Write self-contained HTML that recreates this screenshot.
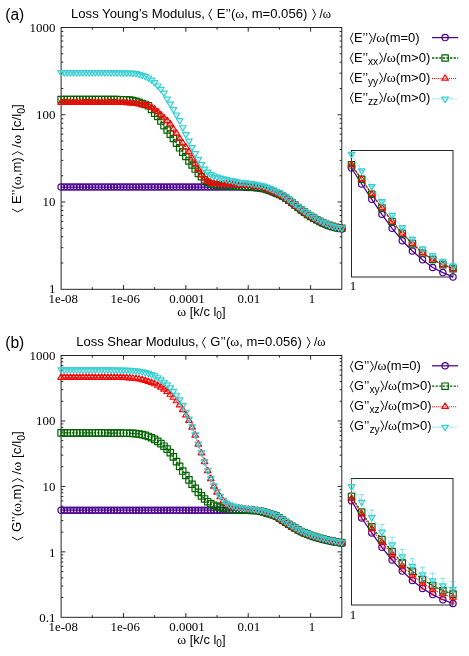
<!DOCTYPE html>
<html><head><meta charset="utf-8"><title>Loss moduli</title>
<style>html,body{margin:0;padding:0;background:#fff}body{width:469px;height:656px;overflow:hidden;font-family:"Liberation Sans",sans-serif}svg text{white-space:pre}</style>
</head><body>
<svg width="469" height="656" viewBox="0 0 469 656" style="display:block">
<rect width="469" height="656" fill="#fff"/>
<g stroke="#1c1c1c" stroke-width="0.95" fill="none" stroke-linecap="butt"><rect x="61.1" y="27.5" width="280.70" height="261.80"/><path d="M92.29 289.3v-2.2M92.29 27.5v2.2M123.48 289.3v-4.2M123.48 27.5v4.2M154.67 289.3v-2.2M154.67 27.5v2.2M185.86 289.3v-4.2M185.86 27.5v4.2M217.04 289.3v-2.2M217.04 27.5v2.2M248.23 289.3v-4.2M248.23 27.5v4.2M279.42 289.3v-2.2M279.42 27.5v2.2M310.61 289.3v-4.2M310.61 27.5v4.2M61.1 263.03h2.2M341.8 263.03h-2.2M61.1 247.66h2.2M341.8 247.66h-2.2M61.1 236.76h2.2M341.8 236.76h-2.2M61.1 228.30h2.2M341.8 228.30h-2.2M61.1 221.39h2.2M341.8 221.39h-2.2M61.1 215.55h2.2M341.8 215.55h-2.2M61.1 210.49h2.2M341.8 210.49h-2.2M61.1 206.03h2.2M341.8 206.03h-2.2M61.1 202.03h4.2M341.8 202.03h-4.2M61.1 175.76h2.2M341.8 175.76h-2.2M61.1 160.40h2.2M341.8 160.40h-2.2M61.1 149.49h2.2M341.8 149.49h-2.2M61.1 141.04h2.2M341.8 141.04h-2.2M61.1 134.13h2.2M341.8 134.13h-2.2M61.1 128.28h2.2M341.8 128.28h-2.2M61.1 123.22h2.2M341.8 123.22h-2.2M61.1 118.76h2.2M341.8 118.76h-2.2M61.1 114.77h4.2M341.8 114.77h-4.2M61.1 88.50h2.2M341.8 88.50h-2.2M61.1 73.13h2.2M341.8 73.13h-2.2M61.1 62.23h2.2M341.8 62.23h-2.2M61.1 53.77h2.2M341.8 53.77h-2.2M61.1 46.86h2.2M341.8 46.86h-2.2M61.1 41.02h2.2M341.8 41.02h-2.2M61.1 35.96h2.2M341.8 35.96h-2.2M61.1 31.49h2.2M341.8 31.49h-2.2"/></g>
<g fill="none" stroke="#4b0090" stroke-width="1.2" stroke-linejoin="round"><polyline points="61.10,187.00 64.22,187.00 67.34,187.00 70.46,187.00 73.58,187.00 76.69,187.00 79.81,187.00 82.93,187.00 86.05,187.00 89.17,187.00 92.29,187.00 95.41,187.00 98.53,187.00 101.65,187.00 104.76,187.00 107.88,187.00 111.00,187.00 114.12,187.00 117.24,187.00 120.36,187.00 123.48,187.00 126.60,187.00 129.72,187.00 132.83,187.00 135.95,187.00 139.07,187.00 142.19,187.00 145.31,187.00 148.43,187.00 151.55,187.00 154.67,187.00 157.79,187.00 160.90,187.00 164.02,187.00 167.14,187.00 170.26,187.00 173.38,187.00 176.50,187.00 179.62,187.00 182.74,187.00 185.86,187.00 188.97,187.00 192.09,187.00 195.21,187.00 198.33,187.00 201.45,187.00 204.57,187.00 207.69,187.00 210.81,187.00 213.93,187.00 217.04,187.00 220.16,187.00 223.28,187.00 226.40,187.00 229.52,187.00 232.64,187.00 235.76,187.00 238.88,187.03 242.00,187.10 245.11,187.23 248.23,187.40 251.35,187.58 254.47,187.80 257.59,188.07 260.71,188.42 263.83,188.97 266.95,189.92 270.07,191.02 273.18,192.22 276.30,193.52 279.42,194.74 282.54,196.38 285.66,198.41 288.78,200.60 291.90,202.96 295.02,205.45 298.14,207.87 301.25,210.24 304.37,212.54 307.49,214.69 310.61,216.70 313.73,218.52 316.85,220.24 319.97,221.94 323.09,223.49 326.21,224.91 329.32,226.10 332.44,227.10 335.56,228.00 338.68,228.58 341.80,229.08" stroke-width="1.25"/><circle cx="61.10" cy="187.00" r="3.15"/><circle cx="64.22" cy="187.00" r="3.15"/><circle cx="67.34" cy="187.00" r="3.15"/><circle cx="70.46" cy="187.00" r="3.15"/><circle cx="73.58" cy="187.00" r="3.15"/><circle cx="76.69" cy="187.00" r="3.15"/><circle cx="79.81" cy="187.00" r="3.15"/><circle cx="82.93" cy="187.00" r="3.15"/><circle cx="86.05" cy="187.00" r="3.15"/><circle cx="89.17" cy="187.00" r="3.15"/><circle cx="92.29" cy="187.00" r="3.15"/><circle cx="95.41" cy="187.00" r="3.15"/><circle cx="98.53" cy="187.00" r="3.15"/><circle cx="101.65" cy="187.00" r="3.15"/><circle cx="104.76" cy="187.00" r="3.15"/><circle cx="107.88" cy="187.00" r="3.15"/><circle cx="111.00" cy="187.00" r="3.15"/><circle cx="114.12" cy="187.00" r="3.15"/><circle cx="117.24" cy="187.00" r="3.15"/><circle cx="120.36" cy="187.00" r="3.15"/><circle cx="123.48" cy="187.00" r="3.15"/><circle cx="126.60" cy="187.00" r="3.15"/><circle cx="129.72" cy="187.00" r="3.15"/><circle cx="132.83" cy="187.00" r="3.15"/><circle cx="135.95" cy="187.00" r="3.15"/><circle cx="139.07" cy="187.00" r="3.15"/><circle cx="142.19" cy="187.00" r="3.15"/><circle cx="145.31" cy="187.00" r="3.15"/><circle cx="148.43" cy="187.00" r="3.15"/><circle cx="151.55" cy="187.00" r="3.15"/><circle cx="154.67" cy="187.00" r="3.15"/><circle cx="157.79" cy="187.00" r="3.15"/><circle cx="160.90" cy="187.00" r="3.15"/><circle cx="164.02" cy="187.00" r="3.15"/><circle cx="167.14" cy="187.00" r="3.15"/><circle cx="170.26" cy="187.00" r="3.15"/><circle cx="173.38" cy="187.00" r="3.15"/><circle cx="176.50" cy="187.00" r="3.15"/><circle cx="179.62" cy="187.00" r="3.15"/><circle cx="182.74" cy="187.00" r="3.15"/><circle cx="185.86" cy="187.00" r="3.15"/><circle cx="188.97" cy="187.00" r="3.15"/><circle cx="192.09" cy="187.00" r="3.15"/><circle cx="195.21" cy="187.00" r="3.15"/><circle cx="198.33" cy="187.00" r="3.15"/><circle cx="201.45" cy="187.00" r="3.15"/><circle cx="204.57" cy="187.00" r="3.15"/><circle cx="207.69" cy="187.00" r="3.15"/><circle cx="210.81" cy="187.00" r="3.15"/><circle cx="213.93" cy="187.00" r="3.15"/><circle cx="217.04" cy="187.00" r="3.15"/><circle cx="220.16" cy="187.00" r="3.15"/><circle cx="223.28" cy="187.00" r="3.15"/><circle cx="226.40" cy="187.00" r="3.15"/><circle cx="229.52" cy="187.00" r="3.15"/><circle cx="232.64" cy="187.00" r="3.15"/><circle cx="235.76" cy="187.00" r="3.15"/><circle cx="238.88" cy="187.03" r="3.15"/><circle cx="242.00" cy="187.10" r="3.15"/><circle cx="245.11" cy="187.23" r="3.15"/><circle cx="248.23" cy="187.40" r="3.15"/><circle cx="251.35" cy="187.58" r="3.15"/><circle cx="254.47" cy="187.80" r="3.15"/><circle cx="257.59" cy="188.07" r="3.15"/><circle cx="260.71" cy="188.42" r="3.15"/><circle cx="263.83" cy="188.97" r="3.15"/><circle cx="266.95" cy="189.92" r="3.15"/><circle cx="270.07" cy="191.02" r="3.15"/><circle cx="273.18" cy="192.22" r="3.15"/><circle cx="276.30" cy="193.52" r="3.15"/><circle cx="279.42" cy="194.74" r="3.15"/><circle cx="282.54" cy="196.38" r="3.15"/><circle cx="285.66" cy="198.41" r="3.15"/><circle cx="288.78" cy="200.60" r="3.15"/><circle cx="291.90" cy="202.96" r="3.15"/><circle cx="295.02" cy="205.45" r="3.15"/><circle cx="298.14" cy="207.87" r="3.15"/><circle cx="301.25" cy="210.24" r="3.15"/><circle cx="304.37" cy="212.54" r="3.15"/><circle cx="307.49" cy="214.69" r="3.15"/><circle cx="310.61" cy="216.70" r="3.15"/><circle cx="313.73" cy="218.52" r="3.15"/><circle cx="316.85" cy="220.24" r="3.15"/><circle cx="319.97" cy="221.94" r="3.15"/><circle cx="323.09" cy="223.49" r="3.15"/><circle cx="326.21" cy="224.91" r="3.15"/><circle cx="329.32" cy="226.10" r="3.15"/><circle cx="332.44" cy="227.10" r="3.15"/><circle cx="335.56" cy="228.00" r="3.15"/><circle cx="338.68" cy="228.58" r="3.15"/><circle cx="341.80" cy="229.08" r="3.15"/></g>
<g fill="none" stroke="#006400" stroke-width="1.2" stroke-linejoin="round"><polyline points="61.10,99.60 64.22,99.60 67.34,99.60 70.46,99.60 73.58,99.60 76.69,99.60 79.81,99.60 82.93,99.60 86.05,99.60 89.17,99.60 92.29,99.60 95.41,99.60 98.53,99.60 101.65,99.60 104.76,99.60 107.88,99.60 111.00,99.60 114.12,99.62 117.24,99.65 120.36,99.70 123.48,99.76 126.60,99.86 129.72,100.07 132.83,100.55 135.95,101.38 139.07,102.34 142.19,103.60 145.31,104.47 148.43,105.69 151.55,109.46 154.67,113.22 157.79,116.40 160.90,121.00 164.02,125.62 167.14,129.98 170.26,134.15 173.38,138.49 176.50,143.14 179.62,147.78 182.74,152.15 185.86,156.49 188.97,160.94 192.09,164.99 195.21,169.07 198.33,173.39 201.45,176.77 204.57,179.72 207.69,182.41 210.81,184.08 213.93,184.80 217.04,185.04 220.16,185.21 223.28,185.38 226.40,185.52 229.52,185.68 232.64,185.85 235.76,186.03 238.88,186.20 242.00,186.33 245.11,186.50 248.23,186.72 251.35,186.95 254.47,187.21 257.59,187.53 260.71,187.92 263.83,188.49 266.95,189.46 270.07,190.57 273.18,191.78 276.30,193.10 279.42,194.35 282.54,195.98 285.66,198.02 288.78,200.22 291.90,202.57 295.02,205.07 298.14,207.50 301.25,209.87 304.37,212.17 307.49,214.34 310.61,216.34 313.73,218.13 316.85,219.79 319.97,221.42 323.09,222.93 326.21,224.29 329.32,225.42 332.44,226.38 335.56,227.22 338.68,227.75 341.80,228.19" stroke-dasharray="2.3 1.3" stroke-width="1.3"/><rect x="57.90" y="96.40" width="6.4" height="6.4"/><rect x="61.02" y="96.40" width="6.4" height="6.4"/><rect x="64.14" y="96.40" width="6.4" height="6.4"/><rect x="67.26" y="96.40" width="6.4" height="6.4"/><rect x="70.38" y="96.40" width="6.4" height="6.4"/><rect x="73.49" y="96.40" width="6.4" height="6.4"/><rect x="76.61" y="96.40" width="6.4" height="6.4"/><rect x="79.73" y="96.40" width="6.4" height="6.4"/><rect x="82.85" y="96.40" width="6.4" height="6.4"/><rect x="85.97" y="96.40" width="6.4" height="6.4"/><rect x="89.09" y="96.40" width="6.4" height="6.4"/><rect x="92.21" y="96.40" width="6.4" height="6.4"/><rect x="95.33" y="96.40" width="6.4" height="6.4"/><rect x="98.45" y="96.40" width="6.4" height="6.4"/><rect x="101.56" y="96.40" width="6.4" height="6.4"/><rect x="104.68" y="96.40" width="6.4" height="6.4"/><rect x="107.80" y="96.40" width="6.4" height="6.4"/><rect x="110.92" y="96.42" width="6.4" height="6.4"/><rect x="114.04" y="96.45" width="6.4" height="6.4"/><rect x="117.16" y="96.50" width="6.4" height="6.4"/><rect x="120.28" y="96.56" width="6.4" height="6.4"/><rect x="123.40" y="96.66" width="6.4" height="6.4"/><rect x="126.52" y="96.87" width="6.4" height="6.4"/><rect x="129.63" y="97.35" width="6.4" height="6.4"/><rect x="132.75" y="98.18" width="6.4" height="6.4"/><rect x="135.87" y="99.14" width="6.4" height="6.4"/><rect x="138.99" y="100.40" width="6.4" height="6.4"/><rect x="142.11" y="101.27" width="6.4" height="6.4"/><rect x="145.23" y="102.49" width="6.4" height="6.4"/><rect x="148.35" y="106.26" width="6.4" height="6.4"/><rect x="151.47" y="110.02" width="6.4" height="6.4"/><rect x="154.59" y="113.20" width="6.4" height="6.4"/><rect x="157.70" y="117.80" width="6.4" height="6.4"/><rect x="160.82" y="122.42" width="6.4" height="6.4"/><rect x="163.94" y="126.78" width="6.4" height="6.4"/><rect x="167.06" y="130.95" width="6.4" height="6.4"/><rect x="170.18" y="135.29" width="6.4" height="6.4"/><rect x="173.30" y="139.94" width="6.4" height="6.4"/><rect x="176.42" y="144.58" width="6.4" height="6.4"/><rect x="179.54" y="148.95" width="6.4" height="6.4"/><rect x="182.66" y="153.29" width="6.4" height="6.4"/><rect x="185.77" y="157.74" width="6.4" height="6.4"/><rect x="188.89" y="161.79" width="6.4" height="6.4"/><rect x="192.01" y="165.87" width="6.4" height="6.4"/><rect x="195.13" y="170.19" width="6.4" height="6.4"/><rect x="198.25" y="173.57" width="6.4" height="6.4"/><rect x="201.37" y="176.52" width="6.4" height="6.4"/><rect x="204.49" y="179.21" width="6.4" height="6.4"/><rect x="207.61" y="180.88" width="6.4" height="6.4"/><rect x="210.73" y="181.60" width="6.4" height="6.4"/><rect x="213.84" y="181.84" width="6.4" height="6.4"/><rect x="216.96" y="182.01" width="6.4" height="6.4"/><rect x="220.08" y="182.18" width="6.4" height="6.4"/><rect x="223.20" y="182.32" width="6.4" height="6.4"/><rect x="226.32" y="182.48" width="6.4" height="6.4"/><rect x="229.44" y="182.65" width="6.4" height="6.4"/><rect x="232.56" y="182.83" width="6.4" height="6.4"/><rect x="235.68" y="183.00" width="6.4" height="6.4"/><rect x="238.80" y="183.13" width="6.4" height="6.4"/><rect x="241.91" y="183.30" width="6.4" height="6.4"/><rect x="245.03" y="183.52" width="6.4" height="6.4"/><rect x="248.15" y="183.75" width="6.4" height="6.4"/><rect x="251.27" y="184.01" width="6.4" height="6.4"/><rect x="254.39" y="184.33" width="6.4" height="6.4"/><rect x="257.51" y="184.72" width="6.4" height="6.4"/><rect x="260.63" y="185.29" width="6.4" height="6.4"/><rect x="263.75" y="186.26" width="6.4" height="6.4"/><rect x="266.87" y="187.37" width="6.4" height="6.4"/><rect x="269.98" y="188.58" width="6.4" height="6.4"/><rect x="273.10" y="189.90" width="6.4" height="6.4"/><rect x="276.22" y="191.15" width="6.4" height="6.4"/><rect x="279.34" y="192.78" width="6.4" height="6.4"/><rect x="282.46" y="194.82" width="6.4" height="6.4"/><rect x="285.58" y="197.02" width="6.4" height="6.4"/><rect x="288.70" y="199.37" width="6.4" height="6.4"/><rect x="291.82" y="201.87" width="6.4" height="6.4"/><rect x="294.94" y="204.30" width="6.4" height="6.4"/><rect x="298.05" y="206.67" width="6.4" height="6.4"/><rect x="301.17" y="208.97" width="6.4" height="6.4"/><rect x="304.29" y="211.14" width="6.4" height="6.4"/><rect x="307.41" y="213.14" width="6.4" height="6.4"/><rect x="310.53" y="214.93" width="6.4" height="6.4"/><rect x="313.65" y="216.59" width="6.4" height="6.4"/><rect x="316.77" y="218.22" width="6.4" height="6.4"/><rect x="319.89" y="219.73" width="6.4" height="6.4"/><rect x="323.01" y="221.09" width="6.4" height="6.4"/><rect x="326.12" y="222.22" width="6.4" height="6.4"/><rect x="329.24" y="223.18" width="6.4" height="6.4"/><rect x="332.36" y="224.02" width="6.4" height="6.4"/><rect x="335.48" y="224.55" width="6.4" height="6.4"/><rect x="338.60" y="224.99" width="6.4" height="6.4"/></g>
<g fill="none" stroke="#ff0000" stroke-width="1.2" stroke-linejoin="round"><polyline points="61.10,102.60 64.22,102.60 67.34,102.60 70.46,102.60 73.58,102.60 76.69,102.60 79.81,102.60 82.93,102.60 86.05,102.60 89.17,102.60 92.29,102.60 95.41,102.60 98.53,102.60 101.65,102.60 104.76,102.60 107.88,102.60 111.00,102.60 114.12,102.62 117.24,102.65 120.36,102.70 123.48,102.76 126.60,102.88 129.72,103.17 132.83,103.47 135.95,103.80 139.07,104.18 142.19,104.60 145.31,105.13 148.43,105.97 151.55,107.46 154.67,109.42 157.79,111.95 160.90,114.95 164.02,118.03 167.14,120.83 170.26,124.16 173.38,129.29 176.50,133.45 179.62,138.68 182.74,143.22 185.86,147.28 188.97,152.13 192.09,158.32 195.21,163.78 198.33,169.48 201.45,174.85 204.57,178.69 207.69,181.48 210.81,183.05 213.93,183.69 217.04,183.87 220.16,184.01 223.28,184.14 226.40,184.25 229.52,184.38 232.64,184.53 235.76,184.69 238.88,184.88 242.00,185.09 245.11,185.36 248.23,185.67 251.35,185.99 254.47,186.35 257.59,186.76 260.71,187.25 263.83,187.92 266.95,189.00 270.07,190.23 273.18,191.55 276.30,192.97 279.42,194.33 282.54,195.98 285.66,198.02 288.78,200.22 291.90,202.57 295.02,205.07 298.14,207.50 301.25,209.87 304.37,212.17 307.49,214.34 310.61,216.34 313.73,218.13 316.85,219.79 319.97,221.42 323.09,222.93 326.21,224.29 329.32,225.42 332.44,226.38 335.56,227.22 338.68,227.75 341.80,228.19" stroke-dasharray="1.05 1.05" stroke-width="1.1"/><path d="M61.10 98.90L64.40 104.30H57.80Z"/><path d="M64.22 98.90L67.52 104.30H60.92Z"/><path d="M67.34 98.90L70.64 104.30H64.04Z"/><path d="M70.46 98.90L73.76 104.30H67.16Z"/><path d="M73.58 98.90L76.88 104.30H70.28Z"/><path d="M76.69 98.90L79.99 104.30H73.39Z"/><path d="M79.81 98.90L83.11 104.30H76.51Z"/><path d="M82.93 98.90L86.23 104.30H79.63Z"/><path d="M86.05 98.90L89.35 104.30H82.75Z"/><path d="M89.17 98.90L92.47 104.30H85.87Z"/><path d="M92.29 98.90L95.59 104.30H88.99Z"/><path d="M95.41 98.90L98.71 104.30H92.11Z"/><path d="M98.53 98.90L101.83 104.30H95.23Z"/><path d="M101.65 98.90L104.95 104.30H98.35Z"/><path d="M104.76 98.90L108.06 104.30H101.46Z"/><path d="M107.88 98.90L111.18 104.30H104.58Z"/><path d="M111.00 98.90L114.30 104.30H107.70Z"/><path d="M114.12 98.92L117.42 104.32H110.82Z"/><path d="M117.24 98.95L120.54 104.35H113.94Z"/><path d="M120.36 99.00L123.66 104.40H117.06Z"/><path d="M123.48 99.06L126.78 104.46H120.18Z"/><path d="M126.60 99.18L129.90 104.58H123.30Z"/><path d="M129.72 99.47L133.02 104.87H126.42Z"/><path d="M132.83 99.77L136.13 105.17H129.53Z"/><path d="M135.95 100.10L139.25 105.50H132.65Z"/><path d="M139.07 100.48L142.37 105.88H135.77Z"/><path d="M142.19 100.90L145.49 106.30H138.89Z"/><path d="M145.31 101.43L148.61 106.83H142.01Z"/><path d="M148.43 102.27L151.73 107.67H145.13Z"/><path d="M151.55 103.76L154.85 109.16H148.25Z"/><path d="M154.67 105.72L157.97 111.12H151.37Z"/><path d="M157.79 108.25L161.09 113.65H154.49Z"/><path d="M160.90 111.25L164.20 116.65H157.60Z"/><path d="M164.02 114.33L167.32 119.73H160.72Z"/><path d="M167.14 117.13L170.44 122.53H163.84Z"/><path d="M170.26 120.46L173.56 125.86H166.96Z"/><path d="M173.38 125.59L176.68 130.99H170.08Z"/><path d="M176.50 129.75L179.80 135.15H173.20Z"/><path d="M179.62 134.98L182.92 140.38H176.32Z"/><path d="M182.74 139.52L186.04 144.92H179.44Z"/><path d="M185.86 143.58L189.16 148.98H182.56Z"/><path d="M188.97 148.43L192.27 153.83H185.67Z"/><path d="M192.09 154.62L195.39 160.02H188.79Z"/><path d="M195.21 160.08L198.51 165.48H191.91Z"/><path d="M198.33 165.78L201.63 171.18H195.03Z"/><path d="M201.45 171.15L204.75 176.55H198.15Z"/><path d="M204.57 174.99L207.87 180.39H201.27Z"/><path d="M207.69 177.78L210.99 183.18H204.39Z"/><path d="M210.81 179.35L214.11 184.75H207.51Z"/><path d="M213.93 179.99L217.23 185.39H210.63Z"/><path d="M217.04 180.17L220.34 185.57H213.74Z"/><path d="M220.16 180.31L223.46 185.71H216.86Z"/><path d="M223.28 180.44L226.58 185.84H219.98Z"/><path d="M226.40 180.55L229.70 185.95H223.10Z"/><path d="M229.52 180.68L232.82 186.08H226.22Z"/><path d="M232.64 180.83L235.94 186.23H229.34Z"/><path d="M235.76 180.99L239.06 186.39H232.46Z"/><path d="M238.88 181.18L242.18 186.58H235.58Z"/><path d="M242.00 181.39L245.30 186.79H238.70Z"/><path d="M245.11 181.66L248.41 187.06H241.81Z"/><path d="M248.23 181.97L251.53 187.37H244.93Z"/><path d="M251.35 182.29L254.65 187.69H248.05Z"/><path d="M254.47 182.65L257.77 188.05H251.17Z"/><path d="M257.59 183.06L260.89 188.46H254.29Z"/><path d="M260.71 183.55L264.01 188.95H257.41Z"/><path d="M263.83 184.22L267.13 189.62H260.53Z"/><path d="M266.95 185.30L270.25 190.70H263.65Z"/><path d="M270.07 186.53L273.37 191.93H266.77Z"/><path d="M273.18 187.85L276.48 193.25H269.88Z"/><path d="M276.30 189.27L279.60 194.67H273.00Z"/><path d="M279.42 190.63L282.72 196.03H276.12Z"/><path d="M282.54 192.28L285.84 197.68H279.24Z"/><path d="M285.66 194.32L288.96 199.72H282.36Z"/><path d="M288.78 196.52L292.08 201.92H285.48Z"/><path d="M291.90 198.87L295.20 204.27H288.60Z"/><path d="M295.02 201.37L298.32 206.77H291.72Z"/><path d="M298.14 203.80L301.44 209.20H294.84Z"/><path d="M301.25 206.17L304.55 211.57H297.95Z"/><path d="M304.37 208.47L307.67 213.87H301.07Z"/><path d="M307.49 210.64L310.79 216.04H304.19Z"/><path d="M310.61 212.64L313.91 218.04H307.31Z"/><path d="M313.73 214.43L317.03 219.83H310.43Z"/><path d="M316.85 216.09L320.15 221.49H313.55Z"/><path d="M319.97 217.72L323.27 223.12H316.67Z"/><path d="M323.09 219.23L326.39 224.63H319.79Z"/><path d="M326.21 220.59L329.51 225.99H322.91Z"/><path d="M329.32 221.72L332.62 227.12H326.02Z"/><path d="M332.44 222.68L335.74 228.08H329.14Z"/><path d="M335.56 223.52L338.86 228.92H332.26Z"/><path d="M338.68 224.05L341.98 229.45H335.38Z"/><path d="M341.80 224.49L345.10 229.89H338.50Z"/></g>
<g fill="none" stroke="#36cfd2" stroke-width="1.2" stroke-linejoin="round"><polyline points="61.10,72.40 64.22,72.40 67.34,72.40 70.46,72.40 73.58,72.40 76.69,72.40 79.81,72.40 82.93,72.40 86.05,72.40 89.17,72.40 92.29,72.40 95.41,72.40 98.53,72.40 101.65,72.40 104.76,72.42 107.88,72.44 111.00,72.48 114.12,72.52 117.24,72.56 120.36,72.61 123.48,72.65 126.60,72.70 129.72,72.78 132.83,72.90 135.95,73.33 139.07,74.07 142.19,74.98 145.31,76.18 148.43,77.72 151.55,79.73 154.67,82.41 157.79,85.71 160.90,89.00 164.02,92.74 167.14,98.73 170.26,103.84 173.38,109.31 176.50,114.69 179.62,120.41 182.74,127.46 185.86,134.32 188.97,140.79 192.09,147.23 195.21,153.39 198.33,159.19 201.45,164.28 204.57,168.80 207.69,171.88 210.81,174.25 213.93,175.77 217.04,176.81 220.16,177.81 223.28,178.67 226.40,179.34 229.52,179.94 232.64,180.51 235.76,181.17 238.88,182.17 242.00,182.30 245.11,182.63 248.23,182.98 251.35,183.40 254.47,183.90 257.59,184.46 260.71,185.04 263.83,185.78 266.95,186.87 270.07,188.13 273.18,189.55 276.30,191.06 279.42,192.59 282.54,194.54 285.66,196.82 288.78,199.09 291.90,201.53 295.02,204.03 298.14,206.42 301.25,208.77 304.37,211.04 307.49,213.17 310.61,215.15 313.73,217.00 316.85,218.76 319.97,220.48 323.09,222.08 326.21,223.52 329.32,224.75 332.44,225.80 335.56,226.70 338.68,227.35 341.80,227.87" stroke-dasharray="0.6 0.6" stroke-width="0.9"/><path d="M61.10 76.10L64.40 70.70H57.80Z"/><path d="M64.22 76.10L67.52 70.70H60.92Z"/><path d="M67.34 76.10L70.64 70.70H64.04Z"/><path d="M70.46 76.10L73.76 70.70H67.16Z"/><path d="M73.58 76.10L76.88 70.70H70.28Z"/><path d="M76.69 76.10L79.99 70.70H73.39Z"/><path d="M79.81 76.10L83.11 70.70H76.51Z"/><path d="M82.93 76.10L86.23 70.70H79.63Z"/><path d="M86.05 76.10L89.35 70.70H82.75Z"/><path d="M89.17 76.10L92.47 70.70H85.87Z"/><path d="M92.29 76.10L95.59 70.70H88.99Z"/><path d="M95.41 76.10L98.71 70.70H92.11Z"/><path d="M98.53 76.10L101.83 70.70H95.23Z"/><path d="M101.65 76.10L104.95 70.70H98.35Z"/><path d="M104.76 76.12L108.06 70.72H101.46Z"/><path d="M107.88 76.14L111.18 70.74H104.58Z"/><path d="M111.00 76.18L114.30 70.78H107.70Z"/><path d="M114.12 76.22L117.42 70.82H110.82Z"/><path d="M117.24 76.26L120.54 70.86H113.94Z"/><path d="M120.36 76.31L123.66 70.91H117.06Z"/><path d="M123.48 76.35L126.78 70.95H120.18Z"/><path d="M126.60 76.40L129.90 71.00H123.30Z"/><path d="M129.72 76.48L133.02 71.08H126.42Z"/><path d="M132.83 76.60L136.13 71.20H129.53Z"/><path d="M135.95 77.03L139.25 71.63H132.65Z"/><path d="M139.07 77.77L142.37 72.37H135.77Z"/><path d="M142.19 78.68L145.49 73.28H138.89Z"/><path d="M145.31 79.88L148.61 74.48H142.01Z"/><path d="M148.43 81.42L151.73 76.02H145.13Z"/><path d="M151.55 83.43L154.85 78.03H148.25Z"/><path d="M154.67 86.11L157.97 80.71H151.37Z"/><path d="M157.79 89.41L161.09 84.01H154.49Z"/><path d="M160.90 92.70L164.20 87.30H157.60Z"/><path d="M164.02 96.44L167.32 91.04H160.72Z"/><path d="M167.14 102.43L170.44 97.03H163.84Z"/><path d="M170.26 107.54L173.56 102.14H166.96Z"/><path d="M173.38 113.01L176.68 107.61H170.08Z"/><path d="M176.50 118.39L179.80 112.99H173.20Z"/><path d="M179.62 124.11L182.92 118.71H176.32Z"/><path d="M182.74 131.16L186.04 125.76H179.44Z"/><path d="M185.86 138.02L189.16 132.62H182.56Z"/><path d="M188.97 144.49L192.27 139.09H185.67Z"/><path d="M192.09 150.93L195.39 145.53H188.79Z"/><path d="M195.21 157.09L198.51 151.69H191.91Z"/><path d="M198.33 162.89L201.63 157.49H195.03Z"/><path d="M201.45 167.98L204.75 162.58H198.15Z"/><path d="M204.57 172.50L207.87 167.10H201.27Z"/><path d="M207.69 175.58L210.99 170.18H204.39Z"/><path d="M210.81 177.95L214.11 172.55H207.51Z"/><path d="M213.93 179.47L217.23 174.07H210.63Z"/><path d="M217.04 180.51L220.34 175.11H213.74Z"/><path d="M220.16 181.51L223.46 176.11H216.86Z"/><path d="M223.28 182.37L226.58 176.97H219.98Z"/><path d="M226.40 183.04L229.70 177.64H223.10Z"/><path d="M229.52 183.64L232.82 178.24H226.22Z"/><path d="M232.64 184.21L235.94 178.81H229.34Z"/><path d="M235.76 184.87L239.06 179.47H232.46Z"/><path d="M238.88 185.87L242.18 180.47H235.58Z"/><path d="M242.00 186.00L245.30 180.60H238.70Z"/><path d="M245.11 186.33L248.41 180.93H241.81Z"/><path d="M248.23 186.68L251.53 181.28H244.93Z"/><path d="M251.35 187.10L254.65 181.70H248.05Z"/><path d="M254.47 187.60L257.77 182.20H251.17Z"/><path d="M257.59 188.16L260.89 182.76H254.29Z"/><path d="M260.71 188.74L264.01 183.34H257.41Z"/><path d="M263.83 189.48L267.13 184.08H260.53Z"/><path d="M266.95 190.57L270.25 185.17H263.65Z"/><path d="M270.07 191.83L273.37 186.43H266.77Z"/><path d="M273.18 193.25L276.48 187.85H269.88Z"/><path d="M276.30 194.76L279.60 189.36H273.00Z"/><path d="M279.42 196.29L282.72 190.89H276.12Z"/><path d="M282.54 198.24L285.84 192.84H279.24Z"/><path d="M285.66 200.52L288.96 195.12H282.36Z"/><path d="M288.78 202.79L292.08 197.39H285.48Z"/><path d="M291.90 205.23L295.20 199.83H288.60Z"/><path d="M295.02 207.73L298.32 202.33H291.72Z"/><path d="M298.14 210.12L301.44 204.72H294.84Z"/><path d="M301.25 212.47L304.55 207.07H297.95Z"/><path d="M304.37 214.74L307.67 209.34H301.07Z"/><path d="M307.49 216.87L310.79 211.47H304.19Z"/><path d="M310.61 218.85L313.91 213.45H307.31Z"/><path d="M313.73 220.70L317.03 215.30H310.43Z"/><path d="M316.85 222.46L320.15 217.06H313.55Z"/><path d="M319.97 224.18L323.27 218.78H316.67Z"/><path d="M323.09 225.78L326.39 220.38H319.79Z"/><path d="M326.21 227.22L329.51 221.82H322.91Z"/><path d="M329.32 228.45L332.62 223.05H326.02Z"/><path d="M332.44 229.50L335.74 224.10H329.14Z"/><path d="M335.56 230.40L338.86 225.00H332.26Z"/><path d="M338.68 231.05L341.98 225.65H335.38Z"/><path d="M341.80 231.57L345.10 226.17H338.50Z"/></g>
<rect x="351.5" y="150.5" width="101.50" height="126.50" fill="none" stroke="#1c1c1c" stroke-width="0.95"/>
<g fill="none" stroke="#4b0090" stroke-width="1.2" stroke-linejoin="round"><polyline points="351.50,168.00 361.65,184.00 371.80,199.30 381.95,214.30 392.10,228.30 402.25,240.70 412.40,251.00 422.55,259.80 432.70,267.50 442.85,272.60 453.00,276.90" stroke-width="1.25"/><circle cx="351.50" cy="168.00" r="3.15"/><circle cx="361.65" cy="184.00" r="3.15"/><circle cx="371.80" cy="199.30" r="3.15"/><circle cx="381.95" cy="214.30" r="3.15"/><circle cx="392.10" cy="228.30" r="3.15"/><circle cx="402.25" cy="240.70" r="3.15"/><circle cx="412.40" cy="251.00" r="3.15"/><circle cx="422.55" cy="259.80" r="3.15"/><circle cx="432.70" cy="267.50" r="3.15"/><circle cx="442.85" cy="272.60" r="3.15"/><circle cx="453.00" cy="276.90" r="3.15"/></g>
<g fill="none" stroke="#006400" stroke-width="1.2" stroke-linejoin="round"><polyline points="351.50,164.80 361.65,179.30 371.80,194.20 381.95,208.00 392.10,221.50 402.25,233.40 412.40,243.60 422.55,253.00 432.70,259.50 442.85,264.60 453.00,268.70" stroke-dasharray="2.3 1.3" stroke-width="1.3"/><rect x="348.30" y="161.60" width="6.4" height="6.4"/><rect x="358.45" y="176.10" width="6.4" height="6.4"/><rect x="368.60" y="191.00" width="6.4" height="6.4"/><rect x="378.75" y="204.80" width="6.4" height="6.4"/><rect x="388.90" y="218.30" width="6.4" height="6.4"/><rect x="399.05" y="230.20" width="6.4" height="6.4"/><rect x="409.20" y="240.40" width="6.4" height="6.4"/><rect x="419.35" y="249.80" width="6.4" height="6.4"/><rect x="429.50" y="256.30" width="6.4" height="6.4"/><rect x="439.65" y="261.40" width="6.4" height="6.4"/><rect x="449.80" y="265.50" width="6.4" height="6.4"/></g>
<g fill="none" stroke="#ff0000" stroke-width="1.2" stroke-linejoin="round"><polyline points="351.50,164.80 361.65,179.30 371.80,194.20 381.95,208.00 392.10,221.50 402.25,233.40 412.40,243.60 422.55,253.00 432.70,259.50 442.85,264.60 453.00,268.70" stroke-dasharray="1.05 1.05" stroke-width="1.1"/><path d="M351.50 161.10L354.80 166.50H348.20Z"/><path d="M361.65 175.60L364.95 181.00H358.35Z"/><path d="M371.80 190.50L375.10 195.90H368.50Z"/><path d="M381.95 204.30L385.25 209.70H378.65Z"/><path d="M392.10 217.80L395.40 223.20H388.80Z"/><path d="M402.25 229.70L405.55 235.10H398.95Z"/><path d="M412.40 239.90L415.70 245.30H409.10Z"/><path d="M422.55 249.30L425.85 254.70H419.25Z"/><path d="M432.70 255.80L436.00 261.20H429.40Z"/><path d="M442.85 260.90L446.15 266.30H439.55Z"/><path d="M453.00 265.00L456.30 270.40H449.70Z"/></g>
<g fill="none" stroke="#36cfd2" stroke-width="1.2" stroke-linejoin="round"><polyline points="351.50,154.00 361.65,170.60 371.80,186.20 381.95,201.40 392.10,215.10 402.25,227.40 412.40,239.00 422.55,248.80 432.70,255.60 442.85,261.50 453.00,265.80" stroke-dasharray="0.6 0.6" stroke-width="0.9"/><path d="M351.50 154.00V154.00M348.90 154.00h5.2M348.90 154.00h5.2M361.65 170.30V170.90M359.05 170.30h5.2M359.05 170.90h5.2M371.80 185.60V186.80M369.20 185.60h5.2M369.20 186.80h5.2M381.95 200.50V202.30M379.35 200.50h5.2M379.35 202.30h5.2M392.10 213.90V216.30M389.50 213.90h5.2M389.50 216.30h5.2M402.25 225.90V228.90M399.65 225.90h5.2M399.65 228.90h5.2M412.40 237.20V240.80M409.80 237.20h5.2M409.80 240.80h5.2M422.55 246.70V250.90M419.95 246.70h5.2M419.95 250.90h5.2M432.70 253.20V258.00M430.10 253.20h5.2M430.10 258.00h5.2M442.85 258.80V264.20M440.25 258.80h5.2M440.25 264.20h5.2M453.00 262.80V268.80M450.40 262.80h5.2M450.40 268.80h5.2" stroke-width="0.6"/><path d="M351.50 157.70L354.80 152.30H348.20Z"/><path d="M361.65 174.30L364.95 168.90H358.35Z"/><path d="M371.80 189.90L375.10 184.50H368.50Z"/><path d="M381.95 205.10L385.25 199.70H378.65Z"/><path d="M392.10 218.80L395.40 213.40H388.80Z"/><path d="M402.25 231.10L405.55 225.70H398.95Z"/><path d="M412.40 242.70L415.70 237.30H409.10Z"/><path d="M422.55 252.50L425.85 247.10H419.25Z"/><path d="M432.70 259.30L436.00 253.90H429.40Z"/><path d="M442.85 265.20L446.15 259.80H439.55Z"/><path d="M453.00 269.50L456.30 264.10H449.70Z"/></g>
<g stroke="#1c1c1c" stroke-width="0.95" fill="none" stroke-linecap="butt"><rect x="61.1" y="355.5" width="280.70" height="261.80"/><path d="M92.29 617.3v-2.2M92.29 355.5v2.2M123.48 617.3v-4.2M123.48 355.5v4.2M154.67 617.3v-2.2M154.67 355.5v2.2M185.86 617.3v-4.2M185.86 355.5v4.2M217.04 617.3v-2.2M217.04 355.5v2.2M248.23 617.3v-4.2M248.23 355.5v4.2M279.42 617.3v-2.2M279.42 355.5v2.2M310.61 617.3v-4.2M310.61 355.5v4.2M61.1 597.60h2.2M341.8 597.60h-2.2M61.1 586.07h2.2M341.8 586.07h-2.2M61.1 577.90h2.2M341.8 577.90h-2.2M61.1 571.55h2.2M341.8 571.55h-2.2M61.1 566.37h2.2M341.8 566.37h-2.2M61.1 561.99h2.2M341.8 561.99h-2.2M61.1 558.19h2.2M341.8 558.19h-2.2M61.1 554.84h2.2M341.8 554.84h-2.2M61.1 551.85h4.2M341.8 551.85h-4.2M61.1 532.15h2.2M341.8 532.15h-2.2M61.1 520.62h2.2M341.8 520.62h-2.2M61.1 512.45h2.2M341.8 512.45h-2.2M61.1 506.10h2.2M341.8 506.10h-2.2M61.1 500.92h2.2M341.8 500.92h-2.2M61.1 496.54h2.2M341.8 496.54h-2.2M61.1 492.74h2.2M341.8 492.74h-2.2M61.1 489.39h2.2M341.8 489.39h-2.2M61.1 486.40h4.2M341.8 486.40h-4.2M61.1 466.70h2.2M341.8 466.70h-2.2M61.1 455.17h2.2M341.8 455.17h-2.2M61.1 447.00h2.2M341.8 447.00h-2.2M61.1 440.65h2.2M341.8 440.65h-2.2M61.1 435.47h2.2M341.8 435.47h-2.2M61.1 431.09h2.2M341.8 431.09h-2.2M61.1 427.29h2.2M341.8 427.29h-2.2M61.1 423.94h2.2M341.8 423.94h-2.2M61.1 420.95h4.2M341.8 420.95h-4.2M61.1 401.25h2.2M341.8 401.25h-2.2M61.1 389.72h2.2M341.8 389.72h-2.2M61.1 381.55h2.2M341.8 381.55h-2.2M61.1 375.20h2.2M341.8 375.20h-2.2M61.1 370.02h2.2M341.8 370.02h-2.2M61.1 365.64h2.2M341.8 365.64h-2.2M61.1 361.84h2.2M341.8 361.84h-2.2M61.1 358.49h2.2M341.8 358.49h-2.2"/></g>
<g fill="none" stroke="#4b0090" stroke-width="1.2" stroke-linejoin="round"><polyline points="61.10,510.20 64.22,510.20 67.34,510.20 70.46,510.20 73.58,510.20 76.69,510.20 79.81,510.20 82.93,510.20 86.05,510.20 89.17,510.20 92.29,510.20 95.41,510.20 98.53,510.20 101.65,510.20 104.76,510.20 107.88,510.20 111.00,510.20 114.12,510.20 117.24,510.20 120.36,510.20 123.48,510.20 126.60,510.20 129.72,510.20 132.83,510.20 135.95,510.20 139.07,510.20 142.19,510.20 145.31,510.20 148.43,510.20 151.55,510.20 154.67,510.20 157.79,510.20 160.90,510.20 164.02,510.20 167.14,510.20 170.26,510.20 173.38,510.20 176.50,510.20 179.62,510.20 182.74,510.20 185.86,510.20 188.97,510.20 192.09,510.20 195.21,510.20 198.33,510.20 201.45,510.20 204.57,510.20 207.69,510.20 210.81,510.20 213.93,510.20 217.04,510.20 220.16,510.20 223.28,510.20 226.40,510.20 229.52,510.20 232.64,510.20 235.76,510.20 238.88,510.20 242.00,510.20 245.11,510.23 248.23,510.27 251.35,510.34 254.47,510.53 257.59,510.82 260.71,511.20 263.83,511.79 266.95,512.66 270.07,513.74 273.18,515.02 276.30,516.73 279.42,518.68 282.54,520.63 285.66,522.67 288.78,524.78 291.90,526.78 295.02,528.60 298.14,530.34 301.25,531.94 304.37,533.37 307.49,534.67 310.61,535.85 313.73,536.91 316.85,537.87 319.97,538.73 323.09,539.53 326.21,540.28 329.32,540.98 332.44,541.64 335.56,542.25 338.68,542.81 341.80,543.32" stroke-width="1.25"/><circle cx="61.10" cy="510.20" r="3.15"/><circle cx="64.22" cy="510.20" r="3.15"/><circle cx="67.34" cy="510.20" r="3.15"/><circle cx="70.46" cy="510.20" r="3.15"/><circle cx="73.58" cy="510.20" r="3.15"/><circle cx="76.69" cy="510.20" r="3.15"/><circle cx="79.81" cy="510.20" r="3.15"/><circle cx="82.93" cy="510.20" r="3.15"/><circle cx="86.05" cy="510.20" r="3.15"/><circle cx="89.17" cy="510.20" r="3.15"/><circle cx="92.29" cy="510.20" r="3.15"/><circle cx="95.41" cy="510.20" r="3.15"/><circle cx="98.53" cy="510.20" r="3.15"/><circle cx="101.65" cy="510.20" r="3.15"/><circle cx="104.76" cy="510.20" r="3.15"/><circle cx="107.88" cy="510.20" r="3.15"/><circle cx="111.00" cy="510.20" r="3.15"/><circle cx="114.12" cy="510.20" r="3.15"/><circle cx="117.24" cy="510.20" r="3.15"/><circle cx="120.36" cy="510.20" r="3.15"/><circle cx="123.48" cy="510.20" r="3.15"/><circle cx="126.60" cy="510.20" r="3.15"/><circle cx="129.72" cy="510.20" r="3.15"/><circle cx="132.83" cy="510.20" r="3.15"/><circle cx="135.95" cy="510.20" r="3.15"/><circle cx="139.07" cy="510.20" r="3.15"/><circle cx="142.19" cy="510.20" r="3.15"/><circle cx="145.31" cy="510.20" r="3.15"/><circle cx="148.43" cy="510.20" r="3.15"/><circle cx="151.55" cy="510.20" r="3.15"/><circle cx="154.67" cy="510.20" r="3.15"/><circle cx="157.79" cy="510.20" r="3.15"/><circle cx="160.90" cy="510.20" r="3.15"/><circle cx="164.02" cy="510.20" r="3.15"/><circle cx="167.14" cy="510.20" r="3.15"/><circle cx="170.26" cy="510.20" r="3.15"/><circle cx="173.38" cy="510.20" r="3.15"/><circle cx="176.50" cy="510.20" r="3.15"/><circle cx="179.62" cy="510.20" r="3.15"/><circle cx="182.74" cy="510.20" r="3.15"/><circle cx="185.86" cy="510.20" r="3.15"/><circle cx="188.97" cy="510.20" r="3.15"/><circle cx="192.09" cy="510.20" r="3.15"/><circle cx="195.21" cy="510.20" r="3.15"/><circle cx="198.33" cy="510.20" r="3.15"/><circle cx="201.45" cy="510.20" r="3.15"/><circle cx="204.57" cy="510.20" r="3.15"/><circle cx="207.69" cy="510.20" r="3.15"/><circle cx="210.81" cy="510.20" r="3.15"/><circle cx="213.93" cy="510.20" r="3.15"/><circle cx="217.04" cy="510.20" r="3.15"/><circle cx="220.16" cy="510.20" r="3.15"/><circle cx="223.28" cy="510.20" r="3.15"/><circle cx="226.40" cy="510.20" r="3.15"/><circle cx="229.52" cy="510.20" r="3.15"/><circle cx="232.64" cy="510.20" r="3.15"/><circle cx="235.76" cy="510.20" r="3.15"/><circle cx="238.88" cy="510.20" r="3.15"/><circle cx="242.00" cy="510.20" r="3.15"/><circle cx="245.11" cy="510.23" r="3.15"/><circle cx="248.23" cy="510.27" r="3.15"/><circle cx="251.35" cy="510.34" r="3.15"/><circle cx="254.47" cy="510.53" r="3.15"/><circle cx="257.59" cy="510.82" r="3.15"/><circle cx="260.71" cy="511.20" r="3.15"/><circle cx="263.83" cy="511.79" r="3.15"/><circle cx="266.95" cy="512.66" r="3.15"/><circle cx="270.07" cy="513.74" r="3.15"/><circle cx="273.18" cy="515.02" r="3.15"/><circle cx="276.30" cy="516.73" r="3.15"/><circle cx="279.42" cy="518.68" r="3.15"/><circle cx="282.54" cy="520.63" r="3.15"/><circle cx="285.66" cy="522.67" r="3.15"/><circle cx="288.78" cy="524.78" r="3.15"/><circle cx="291.90" cy="526.78" r="3.15"/><circle cx="295.02" cy="528.60" r="3.15"/><circle cx="298.14" cy="530.34" r="3.15"/><circle cx="301.25" cy="531.94" r="3.15"/><circle cx="304.37" cy="533.37" r="3.15"/><circle cx="307.49" cy="534.67" r="3.15"/><circle cx="310.61" cy="535.85" r="3.15"/><circle cx="313.73" cy="536.91" r="3.15"/><circle cx="316.85" cy="537.87" r="3.15"/><circle cx="319.97" cy="538.73" r="3.15"/><circle cx="323.09" cy="539.53" r="3.15"/><circle cx="326.21" cy="540.28" r="3.15"/><circle cx="329.32" cy="540.98" r="3.15"/><circle cx="332.44" cy="541.64" r="3.15"/><circle cx="335.56" cy="542.25" r="3.15"/><circle cx="338.68" cy="542.81" r="3.15"/><circle cx="341.80" cy="543.32" r="3.15"/></g>
<g fill="none" stroke="#006400" stroke-width="1.2" stroke-linejoin="round"><polyline points="61.10,432.90 64.22,432.90 67.34,432.90 70.46,432.90 73.58,432.90 76.69,432.90 79.81,432.90 82.93,432.90 86.05,432.90 89.17,432.90 92.29,432.90 95.41,432.90 98.53,432.90 101.65,432.90 104.76,432.93 107.88,432.98 111.00,433.04 114.12,433.09 117.24,433.12 120.36,433.15 123.48,433.18 126.60,433.21 129.72,433.25 132.83,433.33 135.95,433.60 139.07,434.05 142.19,434.61 145.31,435.42 148.43,436.46 151.55,437.75 154.67,439.42 157.79,441.36 160.90,443.59 164.02,446.19 167.14,449.13 170.26,452.61 173.38,456.90 176.50,461.65 179.62,466.33 182.74,471.03 185.86,475.52 188.97,479.88 192.09,484.26 195.21,488.42 198.33,492.40 201.45,495.90 204.57,498.95 207.69,501.71 210.81,503.75 213.93,505.20 217.04,506.35 220.16,507.38 223.28,508.24 226.40,508.79 229.52,509.21 232.64,509.50 235.76,509.66 238.88,509.77 242.00,509.87 245.11,510.01 248.23,510.16 251.35,510.33 254.47,510.54 257.59,510.82 260.71,511.32 263.83,512.17 266.95,513.14 270.07,514.01 273.18,514.85 276.30,516.10 279.42,518.13 282.54,520.17 285.66,522.20 288.78,524.24 291.90,526.26 295.02,528.12 298.14,529.85 301.25,531.43 304.37,532.87 307.49,534.17 310.61,535.35 313.73,536.41 316.85,537.37 319.97,538.23 323.09,539.03 326.21,539.78 329.32,540.48 332.44,541.14 335.56,541.75 338.68,542.31 341.80,542.82" stroke-dasharray="2.3 1.3" stroke-width="1.3"/><rect x="57.90" y="429.70" width="6.4" height="6.4"/><rect x="61.02" y="429.70" width="6.4" height="6.4"/><rect x="64.14" y="429.70" width="6.4" height="6.4"/><rect x="67.26" y="429.70" width="6.4" height="6.4"/><rect x="70.38" y="429.70" width="6.4" height="6.4"/><rect x="73.49" y="429.70" width="6.4" height="6.4"/><rect x="76.61" y="429.70" width="6.4" height="6.4"/><rect x="79.73" y="429.70" width="6.4" height="6.4"/><rect x="82.85" y="429.70" width="6.4" height="6.4"/><rect x="85.97" y="429.70" width="6.4" height="6.4"/><rect x="89.09" y="429.70" width="6.4" height="6.4"/><rect x="92.21" y="429.70" width="6.4" height="6.4"/><rect x="95.33" y="429.70" width="6.4" height="6.4"/><rect x="98.45" y="429.70" width="6.4" height="6.4"/><rect x="101.56" y="429.73" width="6.4" height="6.4"/><rect x="104.68" y="429.78" width="6.4" height="6.4"/><rect x="107.80" y="429.84" width="6.4" height="6.4"/><rect x="110.92" y="429.89" width="6.4" height="6.4"/><rect x="114.04" y="429.92" width="6.4" height="6.4"/><rect x="117.16" y="429.95" width="6.4" height="6.4"/><rect x="120.28" y="429.98" width="6.4" height="6.4"/><rect x="123.40" y="430.01" width="6.4" height="6.4"/><rect x="126.52" y="430.05" width="6.4" height="6.4"/><rect x="129.63" y="430.13" width="6.4" height="6.4"/><rect x="132.75" y="430.40" width="6.4" height="6.4"/><rect x="135.87" y="430.85" width="6.4" height="6.4"/><rect x="138.99" y="431.41" width="6.4" height="6.4"/><rect x="142.11" y="432.22" width="6.4" height="6.4"/><rect x="145.23" y="433.26" width="6.4" height="6.4"/><rect x="148.35" y="434.55" width="6.4" height="6.4"/><rect x="151.47" y="436.22" width="6.4" height="6.4"/><rect x="154.59" y="438.16" width="6.4" height="6.4"/><rect x="157.70" y="440.39" width="6.4" height="6.4"/><rect x="160.82" y="442.99" width="6.4" height="6.4"/><rect x="163.94" y="445.93" width="6.4" height="6.4"/><rect x="167.06" y="449.41" width="6.4" height="6.4"/><rect x="170.18" y="453.70" width="6.4" height="6.4"/><rect x="173.30" y="458.45" width="6.4" height="6.4"/><rect x="176.42" y="463.13" width="6.4" height="6.4"/><rect x="179.54" y="467.83" width="6.4" height="6.4"/><rect x="182.66" y="472.32" width="6.4" height="6.4"/><rect x="185.77" y="476.68" width="6.4" height="6.4"/><rect x="188.89" y="481.06" width="6.4" height="6.4"/><rect x="192.01" y="485.22" width="6.4" height="6.4"/><rect x="195.13" y="489.20" width="6.4" height="6.4"/><rect x="198.25" y="492.70" width="6.4" height="6.4"/><rect x="201.37" y="495.75" width="6.4" height="6.4"/><rect x="204.49" y="498.51" width="6.4" height="6.4"/><rect x="207.61" y="500.55" width="6.4" height="6.4"/><rect x="210.73" y="502.00" width="6.4" height="6.4"/><rect x="213.84" y="503.15" width="6.4" height="6.4"/><rect x="216.96" y="504.18" width="6.4" height="6.4"/><rect x="220.08" y="505.04" width="6.4" height="6.4"/><rect x="223.20" y="505.59" width="6.4" height="6.4"/><rect x="226.32" y="506.01" width="6.4" height="6.4"/><rect x="229.44" y="506.30" width="6.4" height="6.4"/><rect x="232.56" y="506.46" width="6.4" height="6.4"/><rect x="235.68" y="506.57" width="6.4" height="6.4"/><rect x="238.80" y="506.67" width="6.4" height="6.4"/><rect x="241.91" y="506.81" width="6.4" height="6.4"/><rect x="245.03" y="506.96" width="6.4" height="6.4"/><rect x="248.15" y="507.13" width="6.4" height="6.4"/><rect x="251.27" y="507.34" width="6.4" height="6.4"/><rect x="254.39" y="507.62" width="6.4" height="6.4"/><rect x="257.51" y="508.12" width="6.4" height="6.4"/><rect x="260.63" y="508.97" width="6.4" height="6.4"/><rect x="263.75" y="509.94" width="6.4" height="6.4"/><rect x="266.87" y="510.81" width="6.4" height="6.4"/><rect x="269.98" y="511.65" width="6.4" height="6.4"/><rect x="273.10" y="512.90" width="6.4" height="6.4"/><rect x="276.22" y="514.93" width="6.4" height="6.4"/><rect x="279.34" y="516.97" width="6.4" height="6.4"/><rect x="282.46" y="519.00" width="6.4" height="6.4"/><rect x="285.58" y="521.04" width="6.4" height="6.4"/><rect x="288.70" y="523.06" width="6.4" height="6.4"/><rect x="291.82" y="524.92" width="6.4" height="6.4"/><rect x="294.94" y="526.65" width="6.4" height="6.4"/><rect x="298.05" y="528.23" width="6.4" height="6.4"/><rect x="301.17" y="529.67" width="6.4" height="6.4"/><rect x="304.29" y="530.97" width="6.4" height="6.4"/><rect x="307.41" y="532.15" width="6.4" height="6.4"/><rect x="310.53" y="533.21" width="6.4" height="6.4"/><rect x="313.65" y="534.17" width="6.4" height="6.4"/><rect x="316.77" y="535.03" width="6.4" height="6.4"/><rect x="319.89" y="535.83" width="6.4" height="6.4"/><rect x="323.01" y="536.58" width="6.4" height="6.4"/><rect x="326.12" y="537.28" width="6.4" height="6.4"/><rect x="329.24" y="537.94" width="6.4" height="6.4"/><rect x="332.36" y="538.55" width="6.4" height="6.4"/><rect x="335.48" y="539.11" width="6.4" height="6.4"/><rect x="338.60" y="539.62" width="6.4" height="6.4"/></g>
<g fill="none" stroke="#ff0000" stroke-width="1.2" stroke-linejoin="round"><polyline points="61.10,377.60 64.22,377.60 67.34,377.60 70.46,377.60 73.58,377.60 76.69,377.60 79.81,377.60 82.93,377.60 86.05,377.60 89.17,377.60 92.29,377.60 95.41,377.60 98.53,377.60 101.65,377.60 104.76,377.60 107.88,377.60 111.00,377.60 114.12,377.60 117.24,377.60 120.36,377.60 123.48,377.67 126.60,377.84 129.72,378.09 132.83,378.40 135.95,378.76 139.07,379.21 142.19,379.95 145.31,380.82 148.43,381.74 151.55,382.80 154.67,384.04 157.79,385.57 160.90,387.36 164.02,389.40 167.14,391.80 170.26,394.53 173.38,397.56 176.50,401.05 179.62,405.10 182.74,409.90 185.86,415.27 188.97,420.66 192.09,427.41 195.21,435.36 198.33,444.37 201.45,453.14 204.57,461.91 207.69,471.01 210.81,478.87 213.93,486.48 217.04,492.37 220.16,497.07 223.28,501.16 226.40,504.00 229.52,505.80 232.64,506.92 235.76,507.71 238.88,508.27 242.00,508.69 245.11,509.05 248.23,509.44 251.35,509.82 254.47,510.22 257.59,510.68 260.71,511.27 263.83,512.00 266.95,512.85 270.07,513.78 273.18,514.90 276.30,516.35 279.42,518.35 282.54,520.37 285.66,522.40 288.78,524.44 291.90,526.46 295.02,528.32 298.14,530.05 301.25,531.63 304.37,533.07 307.49,534.37 310.61,535.55 313.73,536.61 316.85,537.57 319.97,538.43 323.09,539.23 326.21,539.98 329.32,540.68 332.44,541.34 335.56,541.95 338.68,542.51 341.80,543.02" stroke-dasharray="1.05 1.05" stroke-width="1.1"/><path d="M61.10 373.90L64.40 379.30H57.80Z"/><path d="M64.22 373.90L67.52 379.30H60.92Z"/><path d="M67.34 373.90L70.64 379.30H64.04Z"/><path d="M70.46 373.90L73.76 379.30H67.16Z"/><path d="M73.58 373.90L76.88 379.30H70.28Z"/><path d="M76.69 373.90L79.99 379.30H73.39Z"/><path d="M79.81 373.90L83.11 379.30H76.51Z"/><path d="M82.93 373.90L86.23 379.30H79.63Z"/><path d="M86.05 373.90L89.35 379.30H82.75Z"/><path d="M89.17 373.90L92.47 379.30H85.87Z"/><path d="M92.29 373.90L95.59 379.30H88.99Z"/><path d="M95.41 373.90L98.71 379.30H92.11Z"/><path d="M98.53 373.90L101.83 379.30H95.23Z"/><path d="M101.65 373.90L104.95 379.30H98.35Z"/><path d="M104.76 373.90L108.06 379.30H101.46Z"/><path d="M107.88 373.90L111.18 379.30H104.58Z"/><path d="M111.00 373.90L114.30 379.30H107.70Z"/><path d="M114.12 373.90L117.42 379.30H110.82Z"/><path d="M117.24 373.90L120.54 379.30H113.94Z"/><path d="M120.36 373.90L123.66 379.30H117.06Z"/><path d="M123.48 373.97L126.78 379.37H120.18Z"/><path d="M126.60 374.14L129.90 379.54H123.30Z"/><path d="M129.72 374.39L133.02 379.79H126.42Z"/><path d="M132.83 374.70L136.13 380.10H129.53Z"/><path d="M135.95 375.06L139.25 380.46H132.65Z"/><path d="M139.07 375.51L142.37 380.91H135.77Z"/><path d="M142.19 376.25L145.49 381.65H138.89Z"/><path d="M145.31 377.12L148.61 382.52H142.01Z"/><path d="M148.43 378.04L151.73 383.44H145.13Z"/><path d="M151.55 379.10L154.85 384.50H148.25Z"/><path d="M154.67 380.34L157.97 385.74H151.37Z"/><path d="M157.79 381.87L161.09 387.27H154.49Z"/><path d="M160.90 383.66L164.20 389.06H157.60Z"/><path d="M164.02 385.70L167.32 391.10H160.72Z"/><path d="M167.14 388.10L170.44 393.50H163.84Z"/><path d="M170.26 390.83L173.56 396.23H166.96Z"/><path d="M173.38 393.86L176.68 399.26H170.08Z"/><path d="M176.50 397.35L179.80 402.75H173.20Z"/><path d="M179.62 401.40L182.92 406.80H176.32Z"/><path d="M182.74 406.20L186.04 411.60H179.44Z"/><path d="M185.86 411.57L189.16 416.97H182.56Z"/><path d="M188.97 416.96L192.27 422.36H185.67Z"/><path d="M192.09 423.71L195.39 429.11H188.79Z"/><path d="M195.21 431.66L198.51 437.06H191.91Z"/><path d="M198.33 440.67L201.63 446.07H195.03Z"/><path d="M201.45 449.44L204.75 454.84H198.15Z"/><path d="M204.57 458.21L207.87 463.61H201.27Z"/><path d="M207.69 467.31L210.99 472.71H204.39Z"/><path d="M210.81 475.17L214.11 480.57H207.51Z"/><path d="M213.93 482.78L217.23 488.18H210.63Z"/><path d="M217.04 488.67L220.34 494.07H213.74Z"/><path d="M220.16 493.37L223.46 498.77H216.86Z"/><path d="M223.28 497.46L226.58 502.86H219.98Z"/><path d="M226.40 500.30L229.70 505.70H223.10Z"/><path d="M229.52 502.10L232.82 507.50H226.22Z"/><path d="M232.64 503.22L235.94 508.62H229.34Z"/><path d="M235.76 504.01L239.06 509.41H232.46Z"/><path d="M238.88 504.57L242.18 509.97H235.58Z"/><path d="M242.00 504.99L245.30 510.39H238.70Z"/><path d="M245.11 505.35L248.41 510.75H241.81Z"/><path d="M248.23 505.74L251.53 511.14H244.93Z"/><path d="M251.35 506.12L254.65 511.52H248.05Z"/><path d="M254.47 506.52L257.77 511.92H251.17Z"/><path d="M257.59 506.98L260.89 512.38H254.29Z"/><path d="M260.71 507.57L264.01 512.97H257.41Z"/><path d="M263.83 508.30L267.13 513.70H260.53Z"/><path d="M266.95 509.15L270.25 514.55H263.65Z"/><path d="M270.07 510.08L273.37 515.48H266.77Z"/><path d="M273.18 511.20L276.48 516.60H269.88Z"/><path d="M276.30 512.65L279.60 518.05H273.00Z"/><path d="M279.42 514.65L282.72 520.05H276.12Z"/><path d="M282.54 516.67L285.84 522.07H279.24Z"/><path d="M285.66 518.70L288.96 524.10H282.36Z"/><path d="M288.78 520.74L292.08 526.14H285.48Z"/><path d="M291.90 522.76L295.20 528.16H288.60Z"/><path d="M295.02 524.62L298.32 530.02H291.72Z"/><path d="M298.14 526.35L301.44 531.75H294.84Z"/><path d="M301.25 527.93L304.55 533.33H297.95Z"/><path d="M304.37 529.37L307.67 534.77H301.07Z"/><path d="M307.49 530.67L310.79 536.07H304.19Z"/><path d="M310.61 531.85L313.91 537.25H307.31Z"/><path d="M313.73 532.91L317.03 538.31H310.43Z"/><path d="M316.85 533.87L320.15 539.27H313.55Z"/><path d="M319.97 534.73L323.27 540.13H316.67Z"/><path d="M323.09 535.53L326.39 540.93H319.79Z"/><path d="M326.21 536.28L329.51 541.68H322.91Z"/><path d="M329.32 536.98L332.62 542.38H326.02Z"/><path d="M332.44 537.64L335.74 543.04H329.14Z"/><path d="M335.56 538.25L338.86 543.65H332.26Z"/><path d="M338.68 538.81L341.98 544.21H335.38Z"/><path d="M341.80 539.32L345.10 544.72H338.50Z"/></g>
<g fill="none" stroke="#36cfd2" stroke-width="1.2" stroke-linejoin="round"><polyline points="61.10,369.50 64.22,369.50 67.34,369.50 70.46,369.50 73.58,369.50 76.69,369.50 79.81,369.50 82.93,369.50 86.05,369.50 89.17,369.50 92.29,369.50 95.41,369.50 98.53,369.50 101.65,369.50 104.76,369.52 107.88,369.56 111.00,369.61 114.12,369.67 117.24,369.74 120.36,369.81 123.48,369.90 126.60,370.02 129.72,370.17 132.83,370.36 135.95,370.60 139.07,370.95 142.19,371.56 145.31,372.33 148.43,373.21 151.55,374.32 154.67,375.67 157.79,377.43 160.90,379.57 164.02,381.93 167.14,384.60 170.26,387.62 173.38,391.02 176.50,394.97 179.62,399.67 182.74,405.38 185.86,411.94 188.97,418.91 192.09,426.43 195.21,434.56 198.33,443.68 201.45,452.54 204.57,461.41 207.69,470.50 210.81,478.26 213.93,485.67 217.04,491.37 220.16,496.08 223.28,500.07 226.40,502.80 229.52,504.59 232.64,505.72 235.76,506.50 238.88,507.09 242.00,507.54 245.11,507.94 248.23,508.36 251.35,508.77 254.47,509.19 257.59,509.67 260.71,510.28 263.83,511.01 266.95,511.85 270.07,512.78 273.18,513.90 276.30,515.35 279.42,517.35 282.54,519.37 285.66,521.40 288.78,523.44 291.90,525.46 295.02,527.32 298.14,529.05 301.25,530.63 304.37,532.07 307.49,533.37 310.61,534.55 313.73,535.61 316.85,536.57 319.97,537.43 323.09,538.23 326.21,538.98 329.32,539.68 332.44,540.34 335.56,540.95 338.68,541.51 341.80,542.02" stroke-dasharray="0.6 0.6" stroke-width="0.9"/><path d="M61.10 373.20L64.40 367.80H57.80Z"/><path d="M64.22 373.20L67.52 367.80H60.92Z"/><path d="M67.34 373.20L70.64 367.80H64.04Z"/><path d="M70.46 373.20L73.76 367.80H67.16Z"/><path d="M73.58 373.20L76.88 367.80H70.28Z"/><path d="M76.69 373.20L79.99 367.80H73.39Z"/><path d="M79.81 373.20L83.11 367.80H76.51Z"/><path d="M82.93 373.20L86.23 367.80H79.63Z"/><path d="M86.05 373.20L89.35 367.80H82.75Z"/><path d="M89.17 373.20L92.47 367.80H85.87Z"/><path d="M92.29 373.20L95.59 367.80H88.99Z"/><path d="M95.41 373.20L98.71 367.80H92.11Z"/><path d="M98.53 373.20L101.83 367.80H95.23Z"/><path d="M101.65 373.20L104.95 367.80H98.35Z"/><path d="M104.76 373.22L108.06 367.82H101.46Z"/><path d="M107.88 373.26L111.18 367.86H104.58Z"/><path d="M111.00 373.31L114.30 367.91H107.70Z"/><path d="M114.12 373.37L117.42 367.97H110.82Z"/><path d="M117.24 373.44L120.54 368.04H113.94Z"/><path d="M120.36 373.51L123.66 368.11H117.06Z"/><path d="M123.48 373.60L126.78 368.20H120.18Z"/><path d="M126.60 373.72L129.90 368.32H123.30Z"/><path d="M129.72 373.87L133.02 368.47H126.42Z"/><path d="M132.83 374.06L136.13 368.66H129.53Z"/><path d="M135.95 374.30L139.25 368.90H132.65Z"/><path d="M139.07 374.65L142.37 369.25H135.77Z"/><path d="M142.19 375.26L145.49 369.86H138.89Z"/><path d="M145.31 376.03L148.61 370.63H142.01Z"/><path d="M148.43 376.91L151.73 371.51H145.13Z"/><path d="M151.55 378.02L154.85 372.62H148.25Z"/><path d="M154.67 379.37L157.97 373.97H151.37Z"/><path d="M157.79 381.13L161.09 375.73H154.49Z"/><path d="M160.90 383.27L164.20 377.87H157.60Z"/><path d="M164.02 385.63L167.32 380.23H160.72Z"/><path d="M167.14 388.30L170.44 382.90H163.84Z"/><path d="M170.26 391.32L173.56 385.92H166.96Z"/><path d="M173.38 394.72L176.68 389.32H170.08Z"/><path d="M176.50 398.67L179.80 393.27H173.20Z"/><path d="M179.62 403.37L182.92 397.97H176.32Z"/><path d="M182.74 409.08L186.04 403.68H179.44Z"/><path d="M185.86 415.64L189.16 410.24H182.56Z"/><path d="M188.97 422.61L192.27 417.21H185.67Z"/><path d="M192.09 430.13L195.39 424.73H188.79Z"/><path d="M195.21 438.26L198.51 432.86H191.91Z"/><path d="M198.33 447.38L201.63 441.98H195.03Z"/><path d="M201.45 456.24L204.75 450.84H198.15Z"/><path d="M204.57 465.11L207.87 459.71H201.27Z"/><path d="M207.69 474.20L210.99 468.80H204.39Z"/><path d="M210.81 481.96L214.11 476.56H207.51Z"/><path d="M213.93 489.37L217.23 483.97H210.63Z"/><path d="M217.04 495.07L220.34 489.67H213.74Z"/><path d="M220.16 499.78L223.46 494.38H216.86Z"/><path d="M223.28 503.77L226.58 498.37H219.98Z"/><path d="M226.40 506.50L229.70 501.10H223.10Z"/><path d="M229.52 508.29L232.82 502.89H226.22Z"/><path d="M232.64 509.42L235.94 504.02H229.34Z"/><path d="M235.76 510.20L239.06 504.80H232.46Z"/><path d="M238.88 510.79L242.18 505.39H235.58Z"/><path d="M242.00 511.24L245.30 505.84H238.70Z"/><path d="M245.11 511.64L248.41 506.24H241.81Z"/><path d="M248.23 512.06L251.53 506.66H244.93Z"/><path d="M251.35 512.47L254.65 507.07H248.05Z"/><path d="M254.47 512.89L257.77 507.49H251.17Z"/><path d="M257.59 513.37L260.89 507.97H254.29Z"/><path d="M260.71 513.98L264.01 508.58H257.41Z"/><path d="M263.83 514.71L267.13 509.31H260.53Z"/><path d="M266.95 515.55L270.25 510.15H263.65Z"/><path d="M270.07 516.48L273.37 511.08H266.77Z"/><path d="M273.18 517.60L276.48 512.20H269.88Z"/><path d="M276.30 519.05L279.60 513.65H273.00Z"/><path d="M279.42 521.05L282.72 515.65H276.12Z"/><path d="M282.54 523.07L285.84 517.67H279.24Z"/><path d="M285.66 525.10L288.96 519.70H282.36Z"/><path d="M288.78 527.14L292.08 521.74H285.48Z"/><path d="M291.90 529.16L295.20 523.76H288.60Z"/><path d="M295.02 531.02L298.32 525.62H291.72Z"/><path d="M298.14 532.75L301.44 527.35H294.84Z"/><path d="M301.25 534.33L304.55 528.93H297.95Z"/><path d="M304.37 535.77L307.67 530.37H301.07Z"/><path d="M307.49 537.07L310.79 531.67H304.19Z"/><path d="M310.61 538.25L313.91 532.85H307.31Z"/><path d="M313.73 539.31L317.03 533.91H310.43Z"/><path d="M316.85 540.27L320.15 534.87H313.55Z"/><path d="M319.97 541.13L323.27 535.73H316.67Z"/><path d="M323.09 541.93L326.39 536.53H319.79Z"/><path d="M326.21 542.68L329.51 537.28H322.91Z"/><path d="M329.32 543.38L332.62 537.98H326.02Z"/><path d="M332.44 544.04L335.74 538.64H329.14Z"/><path d="M335.56 544.65L338.86 539.25H332.26Z"/><path d="M338.68 545.21L341.98 539.81H335.38Z"/><path d="M341.80 545.72L345.10 540.32H338.50Z"/></g>
<rect x="351.5" y="478.5" width="101.50" height="126.50" fill="none" stroke="#1c1c1c" stroke-width="0.95"/>
<g fill="none" stroke="#4b0090" stroke-width="1.2" stroke-linejoin="round"><polyline points="351.50,500.70 361.65,518.00 371.80,532.90 381.95,547.30 392.10,560.00 402.25,571.10 412.40,580.50 422.55,588.50 432.70,594.60 442.85,599.70 453.00,603.50" stroke-width="1.25"/><circle cx="351.50" cy="500.70" r="3.15"/><circle cx="361.65" cy="518.00" r="3.15"/><circle cx="371.80" cy="532.90" r="3.15"/><circle cx="381.95" cy="547.30" r="3.15"/><circle cx="392.10" cy="560.00" r="3.15"/><circle cx="402.25" cy="571.10" r="3.15"/><circle cx="412.40" cy="580.50" r="3.15"/><circle cx="422.55" cy="588.50" r="3.15"/><circle cx="432.70" cy="594.60" r="3.15"/><circle cx="442.85" cy="599.70" r="3.15"/><circle cx="453.00" cy="603.50" r="3.15"/></g>
<g fill="none" stroke="#006400" stroke-width="1.2" stroke-linejoin="round"><polyline points="351.50,496.60 361.65,512.20 371.80,526.90 381.95,539.60 392.10,551.50 402.25,562.90 412.40,571.40 422.55,579.60 432.70,585.60 442.85,590.70 453.00,594.10" stroke-dasharray="2.3 1.3" stroke-width="1.3"/><path d="M351.50 493.60V499.60M348.90 493.60h5.2M348.90 499.60h5.2M361.65 509.20V515.20M359.05 509.20h5.2M359.05 515.20h5.2M371.80 523.90V529.90M369.20 523.90h5.2M369.20 529.90h5.2M381.95 536.60V542.60M379.35 536.60h5.2M379.35 542.60h5.2M392.10 548.50V554.50M389.50 548.50h5.2M389.50 554.50h5.2M402.25 559.90V565.90M399.65 559.90h5.2M399.65 565.90h5.2M412.40 568.40V574.40M409.80 568.40h5.2M409.80 574.40h5.2M422.55 576.60V582.60M419.95 576.60h5.2M419.95 582.60h5.2M432.70 582.60V588.60M430.10 582.60h5.2M430.10 588.60h5.2M442.85 587.70V593.70M440.25 587.70h5.2M440.25 593.70h5.2M453.00 591.10V597.10M450.40 591.10h5.2M450.40 597.10h5.2" stroke-width="0.6"/><rect x="348.30" y="493.40" width="6.4" height="6.4"/><rect x="358.45" y="509.00" width="6.4" height="6.4"/><rect x="368.60" y="523.70" width="6.4" height="6.4"/><rect x="378.75" y="536.40" width="6.4" height="6.4"/><rect x="388.90" y="548.30" width="6.4" height="6.4"/><rect x="399.05" y="559.70" width="6.4" height="6.4"/><rect x="409.20" y="568.20" width="6.4" height="6.4"/><rect x="419.35" y="576.40" width="6.4" height="6.4"/><rect x="429.50" y="582.40" width="6.4" height="6.4"/><rect x="439.65" y="587.50" width="6.4" height="6.4"/><rect x="449.80" y="590.90" width="6.4" height="6.4"/></g>
<g fill="none" stroke="#ff0000" stroke-width="1.2" stroke-linejoin="round"><polyline points="351.50,498.40 361.65,514.10 371.80,528.80 381.95,542.10 392.10,554.40 402.25,566.00 412.40,575.30 422.55,583.50 432.70,589.50 442.85,594.10 453.00,597.50" stroke-dasharray="1.05 1.05" stroke-width="1.1"/><path d="M351.50 492.90V503.90M348.90 492.90h5.2M348.90 503.90h5.2M361.65 508.60V519.60M359.05 508.60h5.2M359.05 519.60h5.2M371.80 523.30V534.30M369.20 523.30h5.2M369.20 534.30h5.2M381.95 536.60V547.60M379.35 536.60h5.2M379.35 547.60h5.2M392.10 548.90V559.90M389.50 548.90h5.2M389.50 559.90h5.2M402.25 560.50V571.50M399.65 560.50h5.2M399.65 571.50h5.2M412.40 569.80V580.80M409.80 569.80h5.2M409.80 580.80h5.2M422.55 578.00V589.00M419.95 578.00h5.2M419.95 589.00h5.2M432.70 584.00V595.00M430.10 584.00h5.2M430.10 595.00h5.2M442.85 588.60V599.60M440.25 588.60h5.2M440.25 599.60h5.2M453.00 592.00V603.00M450.40 592.00h5.2M450.40 603.00h5.2" stroke-width="0.6"/><path d="M351.50 494.70L354.80 500.10H348.20Z"/><path d="M361.65 510.40L364.95 515.80H358.35Z"/><path d="M371.80 525.10L375.10 530.50H368.50Z"/><path d="M381.95 538.40L385.25 543.80H378.65Z"/><path d="M392.10 550.70L395.40 556.10H388.80Z"/><path d="M402.25 562.30L405.55 567.70H398.95Z"/><path d="M412.40 571.60L415.70 577.00H409.10Z"/><path d="M422.55 579.80L425.85 585.20H419.25Z"/><path d="M432.70 585.80L436.00 591.20H429.40Z"/><path d="M442.85 590.40L446.15 595.80H439.55Z"/><path d="M453.00 593.80L456.30 599.20H449.70Z"/></g>
<g fill="none" stroke="#36cfd2" stroke-width="1.2" stroke-linejoin="round"><polyline points="351.50,486.40 361.65,502.00 371.80,517.30 381.95,531.90 392.10,544.60 402.25,556.60 412.40,566.00 422.55,574.50 432.70,580.50 442.85,585.60 453.00,589.00" stroke-dasharray="0.6 0.6" stroke-width="0.9"/><path d="M351.50 479.10V493.70M348.90 479.10h5.2M348.90 493.70h5.2M361.65 494.70V509.30M359.05 494.70h5.2M359.05 509.30h5.2M371.80 510.00V524.60M369.20 510.00h5.2M369.20 524.60h5.2M381.95 524.60V539.20M379.35 524.60h5.2M379.35 539.20h5.2M392.10 537.30V551.90M389.50 537.30h5.2M389.50 551.90h5.2M402.25 549.30V563.90M399.65 549.30h5.2M399.65 563.90h5.2M412.40 558.70V573.30M409.80 558.70h5.2M409.80 573.30h5.2M422.55 567.20V581.80M419.95 567.20h5.2M419.95 581.80h5.2M432.70 573.20V587.80M430.10 573.20h5.2M430.10 587.80h5.2M442.85 578.30V592.90M440.25 578.30h5.2M440.25 592.90h5.2M453.00 581.70V596.30M450.40 581.70h5.2M450.40 596.30h5.2" stroke-width="0.6"/><path d="M351.50 490.10L354.80 484.70H348.20Z"/><path d="M361.65 505.70L364.95 500.30H358.35Z"/><path d="M371.80 521.00L375.10 515.60H368.50Z"/><path d="M381.95 535.60L385.25 530.20H378.65Z"/><path d="M392.10 548.30L395.40 542.90H388.80Z"/><path d="M402.25 560.30L405.55 554.90H398.95Z"/><path d="M412.40 569.70L415.70 564.30H409.10Z"/><path d="M422.55 578.20L425.85 572.80H419.25Z"/><path d="M432.70 584.20L436.00 578.80H429.40Z"/><path d="M442.85 589.30L446.15 583.90H439.55Z"/><path d="M453.00 592.70L456.30 587.30H449.70Z"/></g>
<g fill="none" stroke="#4b0090" stroke-width="1.2" stroke-linejoin="round"><path d="M432 37.60H458.2" stroke-width="1.25"/><circle cx="445.10" cy="37.60" r="3.15"/></g>
<g fill="none" stroke="#006400" stroke-width="1.2" stroke-linejoin="round"><path d="M432 58.00H458.2" stroke-dasharray="2.3 1.3" stroke-width="1.3"/><rect x="441.90" y="54.80" width="6.4" height="6.4"/></g>
<g fill="none" stroke="#ff0000" stroke-width="1.2" stroke-linejoin="round"><path d="M432 78.50H456.6" stroke-dasharray="1.05 1.05" stroke-width="1.1"/><path d="M445.10 74.80L448.40 80.20H441.80Z"/></g>
<g fill="none" stroke="#36cfd2" stroke-width="1.2" stroke-linejoin="round"><path d="M432 98.90H456.6" stroke-dasharray="0.6 0.6" stroke-width="0.9"/><path d="M445.10 102.60L448.40 97.20H441.80Z"/></g>
<g fill="none" stroke="#4b0090" stroke-width="1.2" stroke-linejoin="round"><path d="M432 365.80H458.2" stroke-width="1.25"/><circle cx="445.10" cy="365.80" r="3.15"/></g>
<g fill="none" stroke="#006400" stroke-width="1.2" stroke-linejoin="round"><path d="M432 386.20H458.2" stroke-dasharray="2.3 1.3" stroke-width="1.3"/><rect x="441.90" y="383.00" width="6.4" height="6.4"/></g>
<g fill="none" stroke="#ff0000" stroke-width="1.2" stroke-linejoin="round"><path d="M432 406.70H456.6" stroke-dasharray="1.05 1.05" stroke-width="1.1"/><path d="M445.10 403.00L448.40 408.40H441.80Z"/></g>
<g fill="none" stroke="#36cfd2" stroke-width="1.2" stroke-linejoin="round"><path d="M432 427.10H456.6" stroke-dasharray="0.6 0.6" stroke-width="0.9"/><path d="M445.10 430.80L448.40 425.40H441.80Z"/></g>
<g fill="#000" style="filter:grayscale(1)">
<text x="5.30" y="19.80" font-size="16" font-family="Liberation Sans, sans-serif" textLength="19.0" lengthAdjust="spacingAndGlyphs">(a)</text>
<text x="71.00" y="18.30" font-size="12.8" font-family="Liberation Sans, sans-serif" textLength="134.0" lengthAdjust="spacingAndGlyphs">Loss Young’s Modulus,</text>
<path d="M211.80 8.80L208.80 14.50L211.80 20.20" fill="none" stroke="#000" stroke-width="0.9"/>
<text x="216.70" y="18.30" font-size="12.8" font-family="Liberation Sans, sans-serif" textLength="90.6" lengthAdjust="spacingAndGlyphs">E’’(<tspan font-family="Liberation Serif, serif" font-size="13.4">ω</tspan>, m=0.056)</text>
<path d="M312.60 8.80L315.60 14.50L312.60 20.20" fill="none" stroke="#000" stroke-width="0.9"/>
<text x="319.50" y="18.30" font-size="12.8" font-family="Liberation Sans, sans-serif" textLength="11.6" lengthAdjust="spacingAndGlyphs">/<tspan font-family="Liberation Serif, serif" font-size="13.4">ω</tspan></text>
<text x="63.30" y="302.60" font-size="12.9" font-family="Liberation Serif, serif" text-anchor="middle">1e-08</text>
<text x="125.30" y="302.60" font-size="12.9" font-family="Liberation Serif, serif" text-anchor="middle">1e-06</text>
<text x="187.00" y="302.60" font-size="12.9" font-family="Liberation Serif, serif" text-anchor="middle">0.0001</text>
<text x="248.90" y="302.60" font-size="12.9" font-family="Liberation Serif, serif" text-anchor="middle">0.01</text>
<text x="312.10" y="302.60" font-size="12.9" font-family="Liberation Serif, serif" text-anchor="middle">1</text>
<text x="177.30" y="315.60" font-size="12.8" font-family="Liberation Sans, sans-serif" textLength="48.2" lengthAdjust="spacingAndGlyphs"><tspan font-family="Liberation Serif, serif" font-size="13.4">ω</tspan> [k/c l<tspan font-size="10" dy="3.4">0</tspan><tspan dy="-3.4">]</tspan></text>
<g transform="translate(21.4 213.30) rotate(-90)"><path d="M4.40 -9.50L1.40 -3.80L4.40 1.90" fill="none" stroke="#000" stroke-width="0.9"/><text x="9.40" y="0.00" font-size="12.8" font-family="Liberation Sans, sans-serif" textLength="46.6" lengthAdjust="spacingAndGlyphs">E’’(<tspan font-family="Liberation Serif, serif" font-size="13.4">ω</tspan>,m)</text><path d="M58.60 -9.50L61.60 -3.80L58.60 1.90" fill="none" stroke="#000" stroke-width="0.9"/><text x="65.60" y="0.00" font-size="12.8" font-family="Liberation Sans, sans-serif" textLength="43.4" lengthAdjust="spacingAndGlyphs">/<tspan font-family="Liberation Serif, serif" font-size="13.4">ω</tspan> [c/l<tspan font-size="10" dy="3.4">0</tspan><tspan dy="-3.4">]</tspan></text></g>
<text x="5.30" y="347.90" font-size="16" font-family="Liberation Sans, sans-serif" textLength="19.0" lengthAdjust="spacingAndGlyphs">(b)</text>
<text x="76.20" y="346.40" font-size="12.8" font-family="Liberation Sans, sans-serif" textLength="122.4" lengthAdjust="spacingAndGlyphs">Loss Shear Modulus,</text>
<path d="M205.40 336.90L202.40 342.60L205.40 348.30" fill="none" stroke="#000" stroke-width="0.9"/>
<text x="210.30" y="346.40" font-size="12.8" font-family="Liberation Sans, sans-serif" textLength="91.5" lengthAdjust="spacingAndGlyphs">G’’(<tspan font-family="Liberation Serif, serif" font-size="13.4">ω</tspan>, m=0.056)</text>
<path d="M307.10 336.90L310.10 342.60L307.10 348.30" fill="none" stroke="#000" stroke-width="0.9"/>
<text x="314.00" y="346.40" font-size="12.8" font-family="Liberation Sans, sans-serif" textLength="11.6" lengthAdjust="spacingAndGlyphs">/<tspan font-family="Liberation Serif, serif" font-size="13.4">ω</tspan></text>
<text x="63.30" y="630.70" font-size="12.9" font-family="Liberation Serif, serif" text-anchor="middle">1e-08</text>
<text x="125.30" y="630.70" font-size="12.9" font-family="Liberation Serif, serif" text-anchor="middle">1e-06</text>
<text x="187.00" y="630.70" font-size="12.9" font-family="Liberation Serif, serif" text-anchor="middle">0.0001</text>
<text x="248.90" y="630.70" font-size="12.9" font-family="Liberation Serif, serif" text-anchor="middle">0.01</text>
<text x="312.10" y="630.70" font-size="12.9" font-family="Liberation Serif, serif" text-anchor="middle">1</text>
<text x="177.30" y="643.70" font-size="12.8" font-family="Liberation Sans, sans-serif" textLength="48.2" lengthAdjust="spacingAndGlyphs"><tspan font-family="Liberation Serif, serif" font-size="13.4">ω</tspan> [k/c l<tspan font-size="10" dy="3.4">0</tspan><tspan dy="-3.4">]</tspan></text>
<g transform="translate(21.4 541.40) rotate(-90)"><path d="M4.40 -9.50L1.40 -3.80L4.40 1.90" fill="none" stroke="#000" stroke-width="0.9"/><text x="9.40" y="0.00" font-size="12.8" font-family="Liberation Sans, sans-serif" textLength="47.800000000000004" lengthAdjust="spacingAndGlyphs">G’’(<tspan font-family="Liberation Serif, serif" font-size="13.4">ω</tspan>,m)</text><path d="M59.80 -9.50L62.80 -3.80L59.80 1.90" fill="none" stroke="#000" stroke-width="0.9"/><text x="66.80" y="0.00" font-size="12.8" font-family="Liberation Sans, sans-serif" textLength="43.4" lengthAdjust="spacingAndGlyphs">/<tspan font-family="Liberation Serif, serif" font-size="13.4">ω</tspan> [c/l<tspan font-size="10" dy="3.4">0</tspan><tspan dy="-3.4">]</tspan></text></g>
<text x="55.40" y="31.60" font-size="12.9" font-family="Liberation Serif, serif" text-anchor="end">1000</text>
<text x="55.40" y="118.90" font-size="12.9" font-family="Liberation Serif, serif" text-anchor="end">100</text>
<text x="55.40" y="206.20" font-size="12.9" font-family="Liberation Serif, serif" text-anchor="end">10</text>
<text x="55.40" y="293.00" font-size="12.9" font-family="Liberation Serif, serif" text-anchor="end">1</text>
<text x="55.40" y="359.80" font-size="12.9" font-family="Liberation Serif, serif" text-anchor="end">1000</text>
<text x="55.40" y="425.40" font-size="12.9" font-family="Liberation Serif, serif" text-anchor="end">100</text>
<text x="55.40" y="491.00" font-size="12.9" font-family="Liberation Serif, serif" text-anchor="end">10</text>
<text x="55.40" y="556.70" font-size="12.9" font-family="Liberation Serif, serif" text-anchor="end">1</text>
<text x="55.40" y="621.60" font-size="12.9" font-family="Liberation Serif, serif" text-anchor="end">0.1</text>
<text x="353.10" y="289.80" font-size="12.9" font-family="Liberation Serif, serif" text-anchor="middle">1</text>
<text x="353.10" y="618.80" font-size="12.9" font-family="Liberation Serif, serif" text-anchor="middle">1</text>
<path d="M353.10 32.80L350.30 38.50L353.10 44.20" fill="none" stroke="#000" stroke-width="0.9"/>
<text x="354.00" y="42.30" font-size="12.8" font-family="Liberation Sans, sans-serif">E’’</text>
<path d="M369.20 32.80L372.20 38.50L369.20 44.20" fill="none" stroke="#000" stroke-width="0.9"/>
<text x="372.70" y="42.30" font-size="12.8" font-family="Liberation Sans, sans-serif" textLength="47.0" lengthAdjust="spacingAndGlyphs">/<tspan font-family="Liberation Serif, serif" font-size="13.4">ω</tspan>(m=0)</text>
<path d="M353.10 52.65L350.30 58.35L353.10 64.05" fill="none" stroke="#000" stroke-width="0.9"/>
<text x="354.00" y="62.15" font-size="12.8" font-family="Liberation Sans, sans-serif">E’’<tspan font-size="10.2" dy="3.0">xx</tspan></text>
<path d="M379.60 52.65L382.60 58.35L379.60 64.05" fill="none" stroke="#000" stroke-width="0.9"/>
<text x="383.20" y="62.15" font-size="12.8" font-family="Liberation Sans, sans-serif" textLength="47.2" lengthAdjust="spacingAndGlyphs">/<tspan font-family="Liberation Serif, serif" font-size="13.4">ω</tspan>(m&gt;0)</text>
<path d="M353.10 72.50L350.30 78.20L353.10 83.90" fill="none" stroke="#000" stroke-width="0.9"/>
<text x="354.00" y="82.00" font-size="12.8" font-family="Liberation Sans, sans-serif">E’’<tspan font-size="10.2" dy="3.0">yy</tspan></text>
<path d="M379.60 72.50L382.60 78.20L379.60 83.90" fill="none" stroke="#000" stroke-width="0.9"/>
<text x="383.20" y="82.00" font-size="12.8" font-family="Liberation Sans, sans-serif" textLength="47.2" lengthAdjust="spacingAndGlyphs">/<tspan font-family="Liberation Serif, serif" font-size="13.4">ω</tspan>(m&gt;0)</text>
<path d="M353.10 92.35L350.30 98.05L353.10 103.75" fill="none" stroke="#000" stroke-width="0.9"/>
<text x="354.00" y="101.85" font-size="12.8" font-family="Liberation Sans, sans-serif">E’’<tspan font-size="10.2" dy="3.0">zz</tspan></text>
<path d="M379.60 92.35L382.60 98.05L379.60 103.75" fill="none" stroke="#000" stroke-width="0.9"/>
<text x="383.20" y="101.85" font-size="12.8" font-family="Liberation Sans, sans-serif" textLength="47.2" lengthAdjust="spacingAndGlyphs">/<tspan font-family="Liberation Serif, serif" font-size="13.4">ω</tspan>(m&gt;0)</text>
<path d="M353.10 360.90L350.30 366.60L353.10 372.30" fill="none" stroke="#000" stroke-width="0.9"/>
<text x="354.00" y="370.40" font-size="12.8" font-family="Liberation Sans, sans-serif">G’’</text>
<path d="M370.40 360.90L373.40 366.60L370.40 372.30" fill="none" stroke="#000" stroke-width="0.9"/>
<text x="373.90" y="370.40" font-size="12.8" font-family="Liberation Sans, sans-serif" textLength="47.0" lengthAdjust="spacingAndGlyphs">/<tspan font-family="Liberation Serif, serif" font-size="13.4">ω</tspan>(m=0)</text>
<path d="M353.10 380.75L350.30 386.45L353.10 392.15" fill="none" stroke="#000" stroke-width="0.9"/>
<text x="354.00" y="390.25" font-size="12.8" font-family="Liberation Sans, sans-serif">G’’<tspan font-size="10.2" dy="3.0">xy</tspan></text>
<path d="M380.80 380.75L383.80 386.45L380.80 392.15" fill="none" stroke="#000" stroke-width="0.9"/>
<text x="384.40" y="390.25" font-size="12.8" font-family="Liberation Sans, sans-serif" textLength="47.2" lengthAdjust="spacingAndGlyphs">/<tspan font-family="Liberation Serif, serif" font-size="13.4">ω</tspan>(m&gt;0)</text>
<path d="M353.10 400.60L350.30 406.30L353.10 412.00" fill="none" stroke="#000" stroke-width="0.9"/>
<text x="354.00" y="410.10" font-size="12.8" font-family="Liberation Sans, sans-serif">G’’<tspan font-size="10.2" dy="3.0">xz</tspan></text>
<path d="M380.80 400.60L383.80 406.30L380.80 412.00" fill="none" stroke="#000" stroke-width="0.9"/>
<text x="384.40" y="410.10" font-size="12.8" font-family="Liberation Sans, sans-serif" textLength="47.2" lengthAdjust="spacingAndGlyphs">/<tspan font-family="Liberation Serif, serif" font-size="13.4">ω</tspan>(m&gt;0)</text>
<path d="M353.10 420.45L350.30 426.15L353.10 431.85" fill="none" stroke="#000" stroke-width="0.9"/>
<text x="354.00" y="429.95" font-size="12.8" font-family="Liberation Sans, sans-serif">G’’<tspan font-size="10.2" dy="3.0">zy</tspan></text>
<path d="M380.80 420.45L383.80 426.15L380.80 431.85" fill="none" stroke="#000" stroke-width="0.9"/>
<text x="384.40" y="429.95" font-size="12.8" font-family="Liberation Sans, sans-serif" textLength="47.2" lengthAdjust="spacingAndGlyphs">/<tspan font-family="Liberation Serif, serif" font-size="13.4">ω</tspan>(m&gt;0)</text>
</g>
</svg>
</body></html>
